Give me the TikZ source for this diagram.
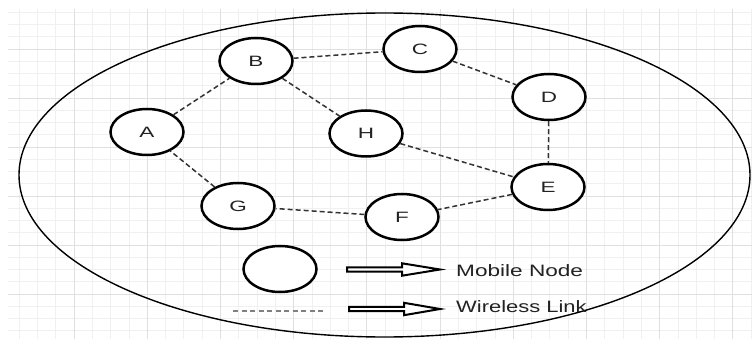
\documentclass[tikz,border=0pt]{standalone}
\usepackage{fontspec}
\setmainfont{Liberation Sans}
\usetikzlibrary{shapes.geometric}
\definecolor{gridminor}{HTML}{F0F0F0}
\definecolor{gridmajor}{HTML}{E0E0E0}
\definecolor{linkcol}{HTML}{333333}
\definecolor{txtcol}{HTML}{222222}
\begin{document}
\begin{tikzpicture}[x=1pt,y=-1pt,
  minorline/.style={draw=gridminor,line width=0.8pt},
  majorline/.style={draw=gridmajor,line width=0.9pt},
  mnode/.style={ellipse,draw=black,line width=2.5pt,fill=white,minimum width=73pt,minimum height=46pt,inner sep=0pt,
    text=txtcol,font=\fontsize{15}{15}\selectfont},
  link/.style={draw=linkcol,line width=1.5pt,dash pattern=on 5pt off 3pt},
  legendlink/.style={draw=gray,line width=1.5pt,dash pattern=on 5pt off 3.5pt},
  blockarrow/.style={draw=black,line width=2pt,fill=white,line join=miter},
  legtext/.style={inner sep=0pt,anchor=base west,text=txtcol,font=\fontsize{16.5}{16.5}\selectfont}
]
\useasboundingbox (0,0) rectangle (752,339);
\fill[white] (0,0) rectangle (752,339);
% grid
\foreach \i in {1,...,41} {
  \pgfmathsetmacro\xx{0.8+18.3*\i}
  \draw[minorline] (\xx,9) -- (\xx,339);
}
\foreach \j in {1,...,27} {
  \pgfmathsetmacro\yy{12.25*\j}
  \draw[minorline] (8,\yy) -- (752,\yy);
}
\foreach \i in {1,...,10} {
  \pgfmathsetmacro\xx{0.8+73.2*\i}
  \draw[majorline] (\xx,9) -- (\xx,339);
}
\foreach \j in {1,...,6} {
  \pgfmathsetmacro\yy{49*\j}
  \draw[majorline] (8,\yy) -- (752,\yy);
}
% big ellipse
\draw[line width=1.4pt] (384.5,175) ellipse [x radius=365.5, y radius=162];
% nodes
\node[mnode] (A) at (147,132) {\scalebox{1.5}[1]{A}};
\node[mnode] (B) at (256,61) {\scalebox{1.5}[1]{B}};
\node[mnode] (C) at (420,49) {\scalebox{1.5}[1]{C}};
\node[mnode] (D) at (549,97) {\scalebox{1.5}[1]{D}};
\node[mnode] (E) at (548,187) {\scalebox{1.5}[1]{E}};
\node[mnode] (F) at (402,217) {\scalebox{1.5}[1]{F}};
\node[mnode] (G) at (238,206) {\scalebox{1.5}[1]{G}};
\node[mnode] (H) at (366,133.5) {\scalebox{1.5}[1]{H}};
% links
\draw[link] (A) -- (B);
\draw[link] (B) -- (C);
\draw[link] (B) -- (H);
\draw[link] (C) -- (D);
\draw[link] (D) -- (E);
\draw[link] (H) -- (E);
\draw[link] (E) -- (F);
\draw[link] (F) -- (G);
\draw[link] (G) -- (A);
% legend
\node[mnode] (L) at (280,269) {};
\coordinate (ls) at (233,311);
\coordinate (le) at (323,311);
\draw[legendlink] (ls) -- (le);
\draw[blockarrow] (347,267.3) -- (402,267.3) -- (402,263.3) -- (440,269.5) -- (402,275.7) -- (402,271.7) -- (347,271.7) -- cycle;
\draw[blockarrow] (349,306.8) -- (404,306.8) -- (404,302.8) -- (440,309) -- (404,315.2) -- (404,311.2) -- (349,311.2) -- cycle;
\node[legtext] (t1) at (456,276.5) {\scalebox{1.37}[1]{Mobile Node}};
\node[legtext] (t2) at (456,312) {\scalebox{1.33}[1]{Wireless Link}};
\end{tikzpicture}
\end{document}
